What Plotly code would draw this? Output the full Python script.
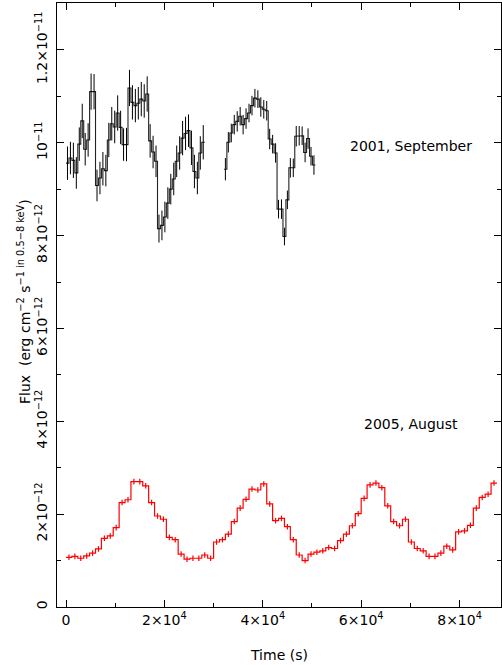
import plotly.graph_objects as go

# ---------------- data ----------------
# 2001 September light curve (flux in units of 1e-12), two segments, 600 s bins
bin_2001 = 600.0
seg1_start = 0.0
seg1_flux = [9.56, 9.67, 9.62, 9.35, 9.97, 10.47, 9.86, 10.06, 11.10, 11.10,
             9.08, 9.24, 9.44, 9.40, 10.06, 10.41, 10.34, 10.64, 10.33, 9.96,
             9.96, 11.18, 10.87, 10.80, 10.85, 10.94, 10.90, 11.05, 10.04, 9.80,
             9.60, 8.15, 8.22, 8.40, 8.70, 9.00, 9.22, 9.60, 9.78, 10.10,
             10.20, 10.26, 9.89, 9.38, 9.24, 9.78, 10.01]
seg1_err = [0.36, 0.35, 0.38, 0.34, 0.36, 0.37, 0.35, 0.36, 0.39, 0.38,
            0.34, 0.35, 0.36, 0.34, 0.37, 0.36, 0.35, 0.38, 0.36, 0.35,
            0.36, 0.39, 0.37, 0.36, 0.35, 0.37, 0.36, 0.38, 0.36, 0.35,
            0.34, 0.30, 0.32, 0.33, 0.34, 0.33, 0.35, 0.34, 0.36, 0.37,
            0.36, 0.35, 0.37, 0.36, 0.35, 0.36, 0.37]
seg2_start = 32100.0
seg2_flux = [9.43, 10.01, 10.21, 10.39, 10.46, 10.57, 10.39, 10.52, 10.64, 10.80,
             10.96, 10.94, 10.77, 10.72, 10.69, 10.08, 9.97, 9.78, 8.57, 8.57,
             7.98, 8.77, 9.46, 9.46, 10.14, 10.15, 10.15, 9.79, 10.09, 9.71, 9.52]
seg2_err = [0.24, 0.22, 0.20, 0.21, 0.22, 0.20, 0.21, 0.22, 0.20, 0.21,
            0.20, 0.19, 0.21, 0.20, 0.21, 0.22, 0.20, 0.21, 0.20, 0.21,
            0.19, 0.20, 0.21, 0.20, 0.22, 0.21, 0.20, 0.21, 0.22, 0.20, 0.21]

# 2005 August light curve, 1200 s bins
bin_2005 = 1200.0
start_2005 = 0.0
flux_2005 = [1.07, 1.09, 1.05, 1.10, 1.16, 1.25, 1.48, 1.53, 1.71, 2.25,
             2.31, 2.70, 2.70, 2.61, 2.25, 1.96, 1.89, 1.50, 1.45, 1.14,
             1.03, 1.05, 1.05, 1.12, 1.05, 1.40, 1.45, 1.57, 1.84, 2.13,
             2.32, 2.54, 2.52, 2.65, 2.22, 1.86, 1.91, 1.73, 1.45, 1.12,
             1.00, 1.14, 1.18, 1.21, 1.28, 1.26, 1.43, 1.57, 1.75, 2.01,
             2.34, 2.63, 2.67, 2.57, 2.18, 1.84, 1.75, 1.89, 1.40, 1.26,
             1.21, 1.09, 1.09, 1.16, 1.31, 1.23, 1.62, 1.64, 1.76, 2.13,
             2.36, 2.43, 2.67]
err_2005 = [0.06] * len(flux_2005)

unit = 1e-12

x_tickvals = [0, 20000, 40000, 60000, 80000]
x_ticktext = ["0", "2×10<sup>4</sup>", "4×10<sup>4</sup>", "6×10<sup>4</sup>", "8×10<sup>4</sup>"]
y_tickvals = [0, 2e-12, 4e-12, 6e-12, 8e-12, 1e-11, 1.2e-11]
y_ticktext = ["0", "2×10<sup>−12</sup>", "4×10<sup>−12</sup>", "6×10<sup>−12</sup>",
              "8×10<sup>−12</sup>", "10<sup>−11</sup>", "1.2×10<sup>−11</sup>"]

labels = ["2001, September", "2005, August"]
label_pos = [(70100, 9.94e-12), (70100, 3.94e-12)]

FONT = "DejaVu Sans"


def steps(start, width, vals):
    xs, ys = [], []
    for i, v in enumerate(vals):
        xs += [start + i * width, start + (i + 1) * width]
        ys += [v * unit, v * unit]
    return xs, ys


def centers(start, width, vals):
    return [start + (i + 0.5) * width for i in range(len(vals))]


fig = go.Figure()

for (st, fl, er) in [(seg1_start, seg1_flux, seg1_err), (seg2_start, seg2_flux, seg2_err)]:
    sx, sy = steps(st, bin_2001, fl)
    fig.add_trace(go.Scatter(x=sx, y=sy, mode="lines", line=dict(color="#222", width=1.1),
                             hoverinfo="skip", showlegend=False))
    fig.add_trace(go.Scatter(x=centers(st, bin_2001, fl), y=[v * unit for v in fl], mode="markers",
                             marker=dict(size=0.1, color="black"),
                             error_y=dict(type="data", array=[e * unit for e in er], color="black",
                                          thickness=1, width=0),
                             showlegend=False))

sx, sy = steps(start_2005, bin_2005, flux_2005)
fig.add_trace(go.Scatter(x=sx, y=sy, mode="lines", line=dict(color="#ff0000", width=1.2),
                         hoverinfo="skip", showlegend=False))
fig.add_trace(go.Scatter(x=centers(start_2005, bin_2005, flux_2005), y=[v * unit for v in flux_2005],
                         mode="markers", marker=dict(size=0.1, color="red"),
                         error_y=dict(type="data", array=[e * unit for e in err_2005], color="#ff0000",
                                      thickness=1.2, width=0),
                         showlegend=False))

for txt, (ax_, ay_) in zip(labels, label_pos):
    fig.add_annotation(x=ax_, y=ay_, text=txt, showarrow=False,
                       font=dict(family=FONT, size=14, color="black"))

fig.add_annotation(xref="paper", yref="paper", x=0, y=0.505, xshift=-33, xanchor="center",
                   text="Flux  (erg cm<sup>−2</sup> s<sup>−1 in 0.5−8 keV</sup>)",
                   textangle=-90, showarrow=False,
                   font=dict(family=FONT, size=14, color="black"))
fig.add_annotation(xref="paper", yref="paper", x=0.5, y=0, yshift=-48, yanchor="middle",
                   text="Time (s)", showarrow=False,
                   font=dict(family=FONT, size=14, color="black"))

axis_common = dict(showgrid=False, zeroline=False, showline=True, linecolor="black", linewidth=1,
                   mirror="allticks", ticks="inside", ticklen=7, tickcolor="black", tickwidth=1,
                   automargin=False,
                   tickfont=dict(family=FONT, size=14, color="black"))

fig.update_xaxes(range=[-1830, 88420], tickmode="array", tickvals=x_tickvals, ticktext=x_ticktext,
                 minor=dict(dtick=10000, ticks="inside", ticklen=4, tickcolor="black"),
                 **axis_common)
fig.update_yaxes(range=[0, 1.301e-11], tickmode="array", tickvals=y_tickvals, ticktext=y_ticktext,
                 tickangle=-90, ticklabelstandoff=3,
                 minor=dict(dtick=1e-12, ticks="inside", ticklen=4, tickcolor="black"),
                 **axis_common)

fig.update_layout(width=502, height=665, margin=dict(l=57, r=1, t=3, b=58),
                  plot_bgcolor="white", paper_bgcolor="white")

fig.write_html("out.html", config={"displayModeBar": False},
               post_script="document.body.style.margin='0';document.body.style.overflow='hidden';")
